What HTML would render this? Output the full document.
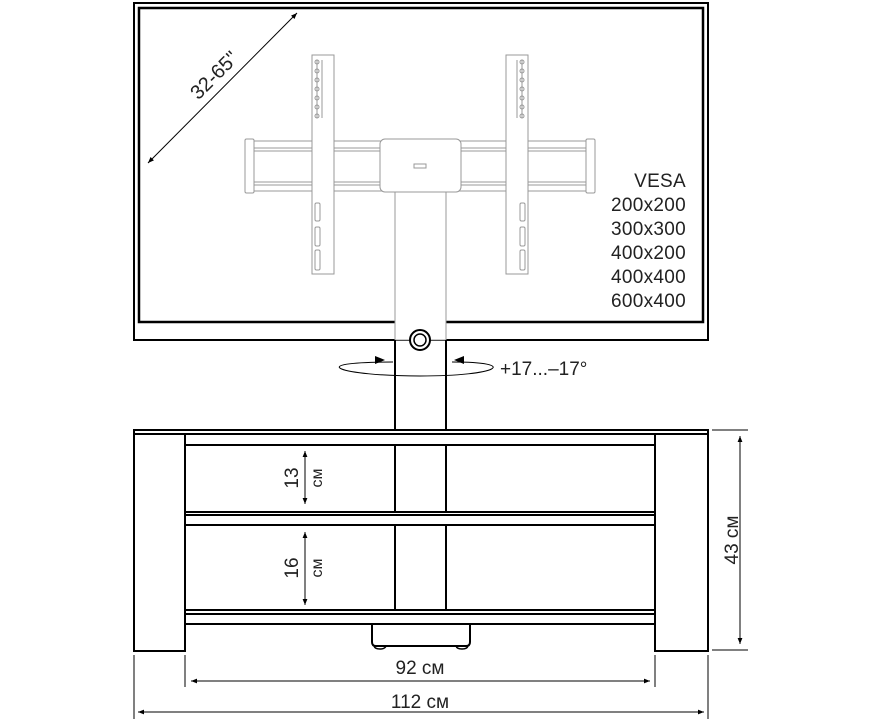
<!DOCTYPE html>
<html><head><meta charset="utf-8"><style>
html,body{margin:0;padding:0;background:#fff;}
svg{display:block;font-family:"Liberation Sans",sans-serif;}
</style></head><body>
<svg width="879" height="719" viewBox="0 0 879 719" xmlns="http://www.w3.org/2000/svg">
<defs>
<marker id="a" viewBox="0 0 10 10" refX="10" refY="5" markerWidth="10" markerHeight="6" orient="auto-start-reverse" markerUnits="userSpaceOnUse"><path d="M0,1 L10,5 L0,9 Z" fill="#000"/></marker>
</defs>
<!-- TV -->
<rect x="134" y="3" width="574" height="337" fill="none" stroke="#000" stroke-width="2"/>
<rect x="139" y="8" width="564" height="314" fill="none" stroke="#000" stroke-width="2.5"/>
<!-- bracket (gray) -->
<g fill="none" stroke="#999" stroke-width="1">
<rect x="245" y="139" width="9" height="54" rx="1.5"/>
<rect x="586" y="139" width="9" height="54" rx="1.5"/>
<line x1="254" y1="141" x2="586" y2="141"/><line x1="254" y1="148" x2="586" y2="148"/><line x1="254" y1="151" x2="586" y2="151"/>
<line x1="254" y1="182" x2="586" y2="182"/><line x1="254" y1="185" x2="586" y2="185"/><line x1="254" y1="191" x2="586" y2="191"/>
<rect x="312" y="55" width="22" height="219" fill="#fff"/>
<rect x="506" y="55" width="22" height="219" fill="#fff"/>
<rect x="380" y="139" width="81" height="53" rx="5" fill="#fff"/>
<rect x="414" y="164" width="12" height="4"/>
<rect x="395" y="192" width="51" height="148" fill="#fff"/>
<rect x="315" y="203" width="5" height="18" rx="1.5"/><rect x="315" y="227" width="5" height="19" rx="1.5"/><rect x="315" y="250" width="5" height="20" rx="1.5"/>
<rect x="520" y="203" width="5" height="18" rx="1.5"/><rect x="520" y="227" width="5" height="19" rx="1.5"/><rect x="520" y="250" width="5" height="20" rx="1.5"/>
<path d="M317,60 v58 M322,60 v58 M517,60 v58 M522,60 v58"/>
<g>
<circle cx="317" cy="62" r="2"/><circle cx="317" cy="71" r="2"/><circle cx="317" cy="80" r="2"/><circle cx="317" cy="89" r="2"/><circle cx="317" cy="98" r="2"/><circle cx="317" cy="107" r="2"/><circle cx="317" cy="116" r="2"/>
<circle cx="522" cy="62" r="2"/><circle cx="522" cy="71" r="2"/><circle cx="522" cy="80" r="2"/><circle cx="522" cy="89" r="2"/><circle cx="522" cy="98" r="2"/><circle cx="522" cy="107" r="2"/><circle cx="522" cy="116" r="2"/>
</g>
</g>
<!-- diagonal -->
<line x1="148" y1="163" x2="297" y2="13" stroke="#000" stroke-width="1" marker-start="url(#a)" marker-end="url(#a)"/>
<text x="0" y="0" font-size="20" fill="#222" transform="translate(219,80) rotate(-45)" text-anchor="middle">32-65"</text>
<!-- VESA -->
<g font-size="19" letter-spacing="0.3" text-anchor="end" fill="#222">
<text x="686" y="187">VESA</text><text x="686" y="211">200x200</text><text x="686" y="235">300x300</text><text x="686" y="259">400x200</text><text x="686" y="283">400x400</text><text x="686" y="307">600x400</text>
</g>
<!-- column -->
<g stroke="#000" fill="none">
<line x1="395" y1="340" x2="395" y2="430" stroke-width="2"/>
<line x1="446" y1="340" x2="446" y2="430" stroke-width="2"/>
<circle cx="420" cy="340" r="10" fill="#fff" stroke-width="2"/>
<circle cx="420" cy="340" r="6" stroke-width="1.5"/>
</g>
<!-- rotation -->
<path d="M393,362 C300,362 340,376 420,376 C500,376 520,362 452,362" fill="none" stroke="#000" stroke-width="1"/>
<path d="M385,360 L375,356 L375,364Z" fill="#000"/>
<path d="M454,360 L464,356 L464,364Z" fill="#000"/>
<text x="500" y="375" font-size="19" fill="#222">+17...–17°</text>
<!-- stand -->
<g stroke="#000" fill="none" stroke-width="2">
<rect x="134" y="430" width="574" height="4"/>
<rect x="134" y="434" width="51" height="217"/>
<rect x="655" y="434" width="53" height="217"/>
<line x1="185" y1="445" x2="655" y2="445"/>
<line x1="185" y1="512" x2="655" y2="512"/><line x1="185" y1="515" x2="655" y2="515"/><line x1="185" y1="525" x2="655" y2="525"/>
<line x1="185" y1="610" x2="655" y2="610"/><line x1="185" y1="614" x2="655" y2="614"/><line x1="185" y1="624" x2="655" y2="624"/>
<line x1="395" y1="445" x2="395" y2="512"/><line x1="446" y1="445" x2="446" y2="512"/>
<line x1="395" y1="525" x2="395" y2="610"/><line x1="446" y1="525" x2="446" y2="610"/>
<path d="M372,625 V642 Q372,646 376,646 H466 Q470,646 470,642 V625"/>
<path d="M374,646 Q375,649 380,649 Q385,649 386,646 M456,646 Q457,649 462,649 Q467,649 468,646" stroke-width="1.5"/>
</g>
<!-- inner dims -->
<line x1="305" y1="451" x2="305" y2="504" stroke="#000" stroke-width="1" marker-start="url(#a)" marker-end="url(#a)"/>
<line x1="305" y1="532" x2="305" y2="605" stroke="#000" stroke-width="1" marker-start="url(#a)" marker-end="url(#a)"/>
<text transform="translate(298,478) rotate(-90)" font-size="19" fill="#222" text-anchor="middle">13</text>
<text transform="translate(322,478) rotate(-90)" font-size="16" fill="#222" text-anchor="middle">см</text>
<text transform="translate(298,568) rotate(-90)" font-size="19" fill="#222" text-anchor="middle">16</text>
<text transform="translate(322,568) rotate(-90)" font-size="16" fill="#222" text-anchor="middle">см</text>
<!-- outer dims -->
<g stroke="#000" stroke-width="1" fill="none">
<line x1="712" y1="430" x2="748" y2="430"/>
<line x1="712" y1="650" x2="748" y2="650"/>
<line x1="740" y1="436" x2="740" y2="644" marker-start="url(#a)" marker-end="url(#a)"/>
<line x1="134" y1="655" x2="134" y2="719"/>
<line x1="708" y1="655" x2="708" y2="719"/>
<line x1="185" y1="655" x2="185" y2="687"/>
<line x1="655" y1="655" x2="655" y2="687"/>
<line x1="191" y1="681" x2="650" y2="681" marker-start="url(#a)" marker-end="url(#a)"/>
<line x1="138" y1="712" x2="704" y2="712" marker-start="url(#a)" marker-end="url(#a)"/>
</g>
<text transform="translate(738,540) rotate(-90)" font-size="19" fill="#222" text-anchor="middle">43 см</text>
<text x="420" y="674" font-size="19" fill="#222" text-anchor="middle">92 см</text>
<text x="420" y="708" font-size="19" fill="#222" text-anchor="middle">112 см</text>
</svg>
</body></html>
